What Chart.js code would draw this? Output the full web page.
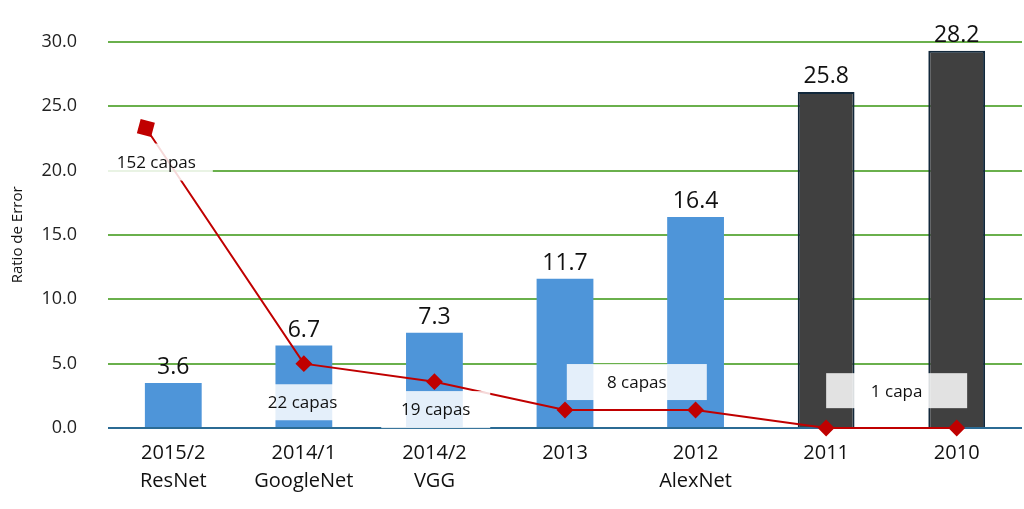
<!DOCTYPE html>
<html>
<head>
<meta charset="utf-8">
<script src="https://cdn.jsdelivr.net/npm/chart.js@4"></script>
<style>
    html, body { margin: 0; padding: 0; background: #fff; overflow: hidden; }
    #wrap { width: 1024px; height: 509px; }
</style>
</head>
<body>
<div id="wrap"><canvas id="myChart"></canvas></div>
<script>
    //-------------------------------------------------- Datos
    const categories = [['2015/2', 'ResNet'], ['2014/1', 'GoogleNet'], ['2014/2', 'VGG'], ['2013'], ['2012', 'AlexNet'], ['2011'], ['2010']];
    const errorRate = [3.5, 6.4, 7.4, 11.6, 16.4, 26.1, 29.3];      // altura de las barras
    const errorLabels = ['3.6', '6.7', '7.3', '11.7', '16.4', '25.8', '28.2'];
    const layerX = [-0.21, 1, 2, 3, 4, 5, 6];
    const layerLine = [23.3, 5.0, 3.6, 1.4, 1.4, 0, 0];
    const layerTexts = ['152 capas', '22 capas', '19 capas', '8 capas', '1 capa'];
    //^^^^^^^^^^^^^^^^^^^^^^^^^^^^^^^^^^^^^^^^^^^^^^^^^^ Datos

    const FONT = "'Open Sans', 'Liberation Sans', sans-serif";
    const BLUE = '#4e95d9';
    const DARK = '#404040';

    // cajas de texto (posición en unidades de los ejes, tamaño en px)
    const notes = [
        { at: -0.13, y: 20.66, w: 113, h: 37 },
        { at: 0.99, y: 2.0, w: 106, h: 36 },
        { at: 2.01, y: 1.43, w: 109, h: 37 },
        { at: 3.55, y: 3.57, w: 140, h: 36 },
        { at: 5.54, y: 2.9, w: 141, h: 35 }
    ];

    const overlay = {
        id: 'overlay',
        afterDatasetsDraw(chart) {
            const ctx = chart.ctx;
            const xs = chart.scales.x2, ys = chart.scales.y;
            ctx.save();
            // valores sobre las barras
            const bars = chart.getDatasetMeta(1).data;
            ctx.fillStyle = '#111';
            ctx.font = '23px ' + FONT;
            ctx.textAlign = 'center';
            ctx.textBaseline = 'alphabetic';
            bars.forEach((bar, i) => {
                ctx.fillText(errorLabels[i], bar.x, bar.y - 9);
            });
            // cajas "capas"
            ctx.font = '17px ' + FONT;
            ctx.textBaseline = 'middle';
            notes.forEach((n, i) => {
                const cx = xs.getPixelForValue(n.at);
                const cy = ys.getPixelForValue(n.y);
                ctx.fillStyle = 'rgba(255,255,255,0.85)';
                ctx.fillRect(cx - n.w / 2, cy - n.h / 2, n.w, n.h);
                ctx.fillStyle = '#111';
                ctx.fillText(layerTexts[i], cx, cy + 1);
            });
            ctx.restore();
        }
    };

    new Chart(document.getElementById('myChart'), {
        type: 'bar',
        data: {
            labels: categories,
            datasets: [
                {
                    type: 'line',
                    label: 'capas',
                    xAxisID: 'x2',
                    data: layerX.map((x, i) => ({ x: x, y: layerLine[i] })),
                    borderColor: '#c00000',
                    backgroundColor: '#c00000',
                    borderWidth: 2,
                    pointStyle: ['rect', 'rectRot', 'rectRot', 'rectRot', 'rectRot', 'rectRot', 'rectRot'],
                    pointRotation: [15, 0, 0, 0, 0, 0, 0],
                    pointRadius: [9, 7, 7, 7, 7, 7, 7],
                    clip: false,
                    order: 0
                },
                {
                    label: 'Ratio de Error',
                    xAxisID: 'x',
                    data: errorRate,
                    backgroundColor: [BLUE, BLUE, BLUE, BLUE, BLUE, DARK, DARK],
                    borderColor: '#12283b',
                    borderWidth: [0, 0, 0, 0, 0, 2, 2],
                    grouped: false,
                    categoryPercentage: 1,
                    barPercentage: 0.435,
                    order: 1
                }
            ]
        },
        options: {
            responsive: true,
            maintainAspectRatio: false,
            animation: false,
            layout: { autoPadding: false, padding: { top: 41, right: 2, left: 0, bottom: 0 } },
            plugins: {
                legend: { display: false },
                tooltip: { enabled: false }
            },
            scales: {
                x: {
                    type: 'category',
                    offset: true,
                    grid: { display: false, drawTicks: false },
                    border: { display: false },
                    ticks: {
                        color: '#111',
                        font: { family: FONT, size: 20, lineHeight: 1.4 },
                        padding: 11,
                        maxRotation: 0,
                        autoSkip: false
                    },
                    afterFit(s) {
                        s.height = 81;
                        s.paddingLeft = 0;
                        s.paddingRight = 0;
                    }
                },
                x2: {
                    type: 'linear',
                    display: false,
                    offset: false,
                    grid: { offset: false },
                    min: -0.5,
                    max: 6.5
                },
                y: {
                    min: 0,
                    max: 30,
                    ticks: {
                        stepSize: 5,
                        color: '#222',
                        padding: 31,
                        font: { family: FONT, size: 18 },
                        callback: v => v.toFixed(1)
                    },
                    grid: {
                        drawTicks: false,
                        color: c => c.tick && c.tick.value === 0 ? '#2b6b94' : '#6ab04c',
                        lineWidth: 2
                    },
                    border: { display: false },
                    title: {
                        display: true,
                        text: 'Ratio de Error',
                        color: '#111',
                        font: { family: FONT, size: 15 },
                        padding: { top: 9, bottom: 0 }
                    },
                    afterFit(s) { s.width = 108; }
                }
            }
        },
        plugins: [overlay]
    });
</script>
</body>
</html>
